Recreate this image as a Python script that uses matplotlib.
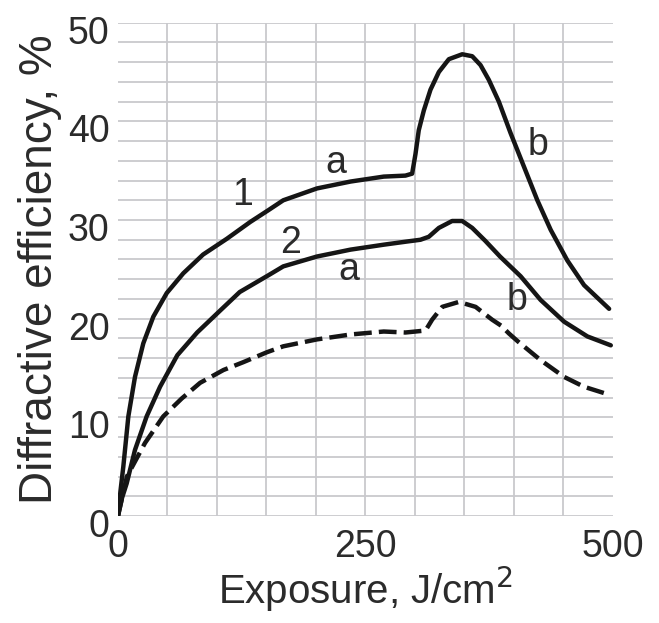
import matplotlib
matplotlib.use('Agg')
import matplotlib.pyplot as plt
import matplotlib.transforms as mtransforms

plt.rcParams['font.family'] = ['Liberation Sans', 'DejaVu Sans']

# curve 1 (solid, upper)
x1 = [0, 2.5, 5.4, 10.5, 17.2, 25.6, 35.7, 49.3, 66, 86, 110, 133.6, 152, 167, 201, 235,
      268.5, 290.4, 297.2, 300.6, 303.9, 309, 315.7, 324.2, 334.3, 347.8, 357.9, 366.3,
      374.7, 384.8, 396.7, 410.2, 423.7, 437.2, 454, 470.9, 496.2]
y1 = [0, 2.5, 5.0, 10.1, 14.1, 17.5, 20.2, 22.6, 24.6, 26.5, 28.1, 29.8, 31.0, 32.0, 33.2,
      33.9, 34.4, 34.5, 34.7, 36.7, 39.1, 41.1, 43.2, 45.0, 46.3, 46.8, 46.6, 45.7, 44.2,
      42.0, 38.8, 35.4, 32.0, 29.0, 25.9, 23.4, 21.0]

# curve 2 (solid, middle)
x2 = [0, 4, 8.8, 17.2, 29, 42.5, 60, 80, 103, 123, 152, 167, 201, 235, 268.5, 290.4,
      305.6, 314, 324.2, 337.6, 347.8, 357.9, 371, 386, 406.8, 427, 450.7, 474.3, 497.9]
y2 = [0, 1.8, 3.3, 6.7, 10.1, 13.1, 16.3, 18.6, 20.8, 22.7, 24.4, 25.3, 26.3, 27.0, 27.5,
      27.8, 28.0, 28.3, 29.2, 29.9, 29.9, 29.2, 27.9, 26.3, 24.3, 21.9, 19.7, 18.2, 17.3]

# dashed curve (lower)
x3 = [0, 9, 27.3, 45.8, 64.3, 83, 106.6, 126.8, 150.5, 167, 201, 235, 268.5, 290.4,
      310.7, 317.4, 327.6, 344.4, 361.3, 378, 387, 395, 404, 427, 450.7, 470.9, 496.2]
y3 = [0, 4.0, 7.4, 10.1, 11.9, 13.5, 14.8, 15.6, 16.6, 17.2, 17.9, 18.4, 18.7, 18.6,
      18.8, 19.9, 21.2, 21.7, 21.2, 19.9, 19.3, 18.5, 17.7, 15.8, 14.1, 13.1, 12.3]

x_ticks = [0, 250, 500]
y_ticks = [0, 10, 20, 30, 40, 50]

# curve annotations: (text, x, y)
notes = [('1', 126, 32.5), ('a', 220, 35.8), ('2', 174, 27.7),
         ('a', 233, 24.9), ('b', 424, 37.6), ('b', 403, 21.9)]

text_col = '#2b2b2b'
line_col = '#151515'
grid_col = '#c9c9cd'

fig = plt.figure(figsize=(6.59, 6.23), dpi=100)
ax = fig.add_axes([0.179, 0.1717, 0.751, 0.7919])

for gx in range(50, 500, 50):
    ax.axvline(gx, color=grid_col, lw=1.3, zorder=0)
for gy in range(0, 51, 2):
    ax.axhline(gy, color=grid_col, lw=1.3, zorder=0)

ax.plot(x1, y1, color=line_col, lw=3.2, solid_capstyle='round', solid_joinstyle='round')
ax.plot(x2, y2, color=line_col, lw=3.2, solid_capstyle='round', solid_joinstyle='round')
ax.plot(x3, y3, color=line_col, lw=3.2, dashes=(4, 1.6))

for t, tx, ty in notes:
    ax.text(tx, ty, t, fontsize=27, color=text_col, ha='center', va='center')

ax.set_xlim(0, 500)
ax.set_ylim(0, 50)
ax.set_xticks(x_ticks)
ax.set_yticks(y_ticks)
ax.tick_params(length=0, labelsize=27, labelcolor=text_col)
ax.tick_params(axis='x', pad=9)
ax.tick_params(axis='y', pad=6)
for s in ax.spines.values():
    s.set_visible(False)

off = mtransforms.ScaledTranslation(0, -0.07, fig.dpi_scale_trans)
for lab in ax.get_yticklabels():
    lab.set_transform(lab.get_transform() + off)

ax.set_xlabel('Exposure, J/cm$^2$', fontsize=29, color=text_col, labelpad=0)
ax.set_ylabel('Diffractive efficiency, %', fontsize=33, color=text_col, labelpad=4)

plt.savefig('out.png', dpi=100)
